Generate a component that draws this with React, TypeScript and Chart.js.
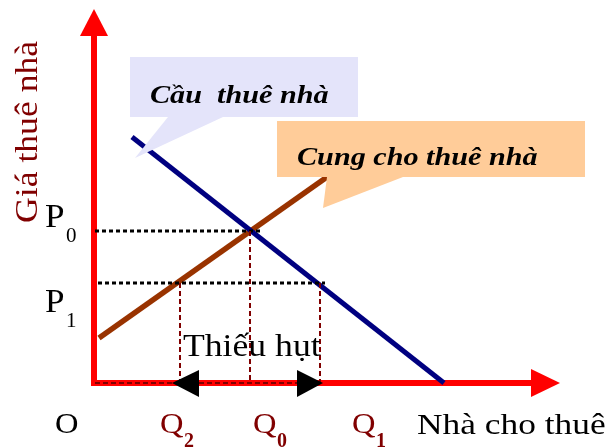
import React, { useEffect, useRef } from "react";
import { Chart, registerables } from "chart.js";

Chart.register(...registerables);

// Rental housing market with a rent ceiling (P1 below equilibrium P0)
const demandQ = [0.76, 7.0];
const demandP = [4.92, 0];
const supplyQ = [0.1, 4.66];
const supplyP = [0.9, 4.12];
const priceLevels = [3.04, 2.0]; // P0 equilibrium, P1 ceiling
const priceSubs = ["0", "1"];
const quantityLevels = [1.72, 3.12, 4.52]; // Q2 supplied, Q0 equilibrium, Q1 demanded
const quantitySubs = ["2", "0", "1"];

const X_MAX = 9;
const Y_MAX = 7;

const SERIF = "'Liberation Serif', 'Times New Roman', serif";
const DARK_RED = "#800000";
const AXIS_RED = "#ff0000";

function drawText(
  ctx: CanvasRenderingContext2D,
  text: string,
  x: number,
  y: number,
  font: string,
  color: string,
  stretch = 1,
  rotate = 0
) {
  ctx.save();
  ctx.translate(x, y);
  if (rotate) ctx.rotate(rotate);
  ctx.scale(stretch, 1);
  ctx.font = font;
  ctx.fillStyle = color;
  ctx.textBaseline = "alphabetic";
  ctx.textAlign = "left";
  ctx.fillText(text, 0, 0);
  ctx.restore();
}

function triangle(ctx: CanvasRenderingContext2D, pts: number[][], color: string) {
  ctx.beginPath();
  ctx.moveTo(pts[0][0], pts[0][1]);
  for (let i = 1; i < pts.length; i++) ctx.lineTo(pts[i][0], pts[i][1]);
  ctx.closePath();
  ctx.fillStyle = color;
  ctx.fill();
}

function callout(
  ctx: CanvasRenderingContext2D,
  box: number[],
  pointer: number[][],
  fill: string
) {
  ctx.save();
  ctx.fillStyle = fill;
  ctx.beginPath();
  ctx.rect(box[0], box[1], box[2], box[3]);
  ctx.fill();
  triangle(ctx, pointer, fill);
  ctx.restore();
}

const diagram = {
  id: "diagram",
  beforeDatasetsDraw(chart: any) {
    const ctx: CanvasRenderingContext2D = chart.ctx;
    const xs = chart.scales.x;
    const ys = chart.scales.y;
    const ox = xs.getPixelForValue(0);
    const oy = ys.getPixelForValue(0);
    ctx.save();
    ctx.fillStyle = "#ffffff";
    ctx.fillRect(0, 0, chart.width, chart.height);
    ctx.strokeStyle = AXIS_RED;
    ctx.lineWidth = 6;
    ctx.lineCap = "butt";
    // vertical price axis
    ctx.beginPath();
    ctx.moveTo(ox, oy + 3);
    ctx.lineTo(ox, 36);
    ctx.stroke();
    triangle(ctx, [[ox - 14, 36], [ox + 14, 36], [ox, 9]], AXIS_RED);
    // horizontal quantity axis
    ctx.beginPath();
    ctx.moveTo(ox - 3, oy);
    ctx.lineTo(531, oy);
    ctx.stroke();
    triangle(ctx, [[531, oy - 14], [531, oy + 14], [560, oy]], AXIS_RED);
    ctx.restore();
  },
  afterDatasetsDraw(chart: any) {
    const ctx: CanvasRenderingContext2D = chart.ctx;
    const xs = chart.scales.x;
    const ys = chart.scales.y;
    const ox = xs.getPixelForValue(0);
    const oy = ys.getPixelForValue(0);
    const [p0, p1] = priceLevels.map((v) => ys.getPixelForValue(v));
    const [q2, q0, q1] = quantityLevels.map((v) => xs.getPixelForValue(v));

    ctx.save();
    // horizontal price guides
    ctx.strokeStyle = "#000000";
    ctx.lineWidth = 3;
    ctx.setLineDash([4, 3]);
    ctx.beginPath();
    ctx.moveTo(ox + 1, p0);
    ctx.lineTo(q0 + 10, p0);
    ctx.moveTo(ox + 4, p1);
    ctx.lineTo(q1 + 5, p1);
    ctx.stroke();

    // vertical quantity guides
    ctx.strokeStyle = DARK_RED;
    ctx.lineWidth = 2;
    ctx.setLineDash([5, 3]);
    ctx.beginPath();
    ctx.moveTo(q2, p1);
    ctx.lineTo(q2, oy);
    ctx.moveTo(q0, p0);
    ctx.lineTo(q0, oy);
    ctx.moveTo(q1, p1);
    ctx.lineTo(q1, oy);
    // dashed mark along the quantity axis
    ctx.moveTo(ox + 1, oy);
    ctx.lineTo(q1, oy);
    ctx.stroke();
    ctx.setLineDash([]);

    // shortage arrowheads between Q2 and Q1
    triangle(ctx, [[q2 - 8, oy], [q2 + 19, oy - 13], [q2 + 19, oy + 14]], "#000000");
    triangle(ctx, [[q1 + 3, oy], [q1 - 23, oy - 13], [q1 - 23, oy + 14]], "#000000");

    // callouts
    callout(ctx, [130, 57, 228, 60], [[168, 117], [223, 117], [135, 158]], "#e4e4fa");
    callout(ctx, [277, 121, 308, 56], [[327, 177], [403, 177], [323, 208]], "#ffcc99");
    const calloutFont = `italic bold 26px ${SERIF}`;
    drawText(ctx, "Cầu  thuê nhà", 150, 103, calloutFont, "#000000", 1.16);
    drawText(ctx, "Cung cho thuê nhà", 297, 165, calloutFont, "#000000", 1.16);

    // shortage label
    drawText(ctx, "Thiếu hụt", 183, 356, `31px ${SERIF}`, "#000000", 1.15);

    // price axis title
    drawText(ctx, "Giá thuê nhà", 37, 223, `31px ${SERIF}`, DARK_RED, 1.15, -Math.PI / 2);

    // price labels
    const priceY = [p0 - 4, p1 + 29];
    priceY.forEach((y, i) => {
      drawText(ctx, "P", 45, y, `34px ${SERIF}`, "#000000", 1.03);
      drawText(ctx, priceSubs[i], 66, y + 15, `21px ${SERIF}`, "#000000", 1.0);
    });

    // quantity labels
    const baseY = 433;
    drawText(ctx, "O", 55, baseY, `29px ${SERIF}`, "#000000", 1.12);
    const qx = [q2 - 20, q0 + 3, q1 + 32];
    qx.forEach((x, i) => {
      drawText(ctx, "Q", x, baseY, `29px ${SERIF}`, DARK_RED, 1.12);
      drawText(ctx, quantitySubs[i], x + 24, baseY + 14, `bold 20px ${SERIF}`, DARK_RED, 1.0);
    });
    drawText(ctx, "Nhà cho thuê", 417, 434, `29px ${SERIF}`, "#000000", 1.22);
    ctx.restore();
  },
};

export default function App() {
  const ref = useRef<HTMLCanvasElement>(null);

  useEffect(() => {
    const canvas = ref.current;
    if (!canvas) return;
    const chart = new Chart(canvas, {
      type: "line",
      data: {
        datasets: [
          {
            label: "Cầu thuê nhà",
            data: demandQ.map((q, i) => ({ x: q, y: demandP[i] })),
            borderColor: "#000080",
            borderWidth: 5,
            pointRadius: 0,
            borderCapStyle: "butt",
            tension: 0,
            clip: false as any,
          },
          {
            label: "Cung cho thuê nhà",
            data: supplyQ.map((q, i) => ({ x: q, y: supplyP[i] })),
            borderColor: "#993300",
            borderWidth: 5.5,
            pointRadius: 0,
            borderCapStyle: "butt",
            tension: 0,
            clip: false as any,
          },
        ],
      },
      options: {
        animation: false,
        responsive: false,
        events: [],
        layout: { padding: { left: 94, right: 66, top: 33, bottom: 65 } },
        scales: {
          x: { type: "linear", min: 0, max: X_MAX, display: false },
          y: { type: "linear", min: 0, max: Y_MAX, display: false },
        },
        plugins: {
          legend: { display: false },
          tooltip: { enabled: false },
          title: { display: false },
        },
      },
      plugins: [diagram],
    });
    return () => chart.destroy();
  }, []);

  return (
    <div style={{ position: "fixed", left: 0, top: 0, width: 610, height: 448, background: "#ffffff" }}>
      <canvas ref={ref} width={610} height={448} style={{ display: "block" }} />
    </div>
  );
}
